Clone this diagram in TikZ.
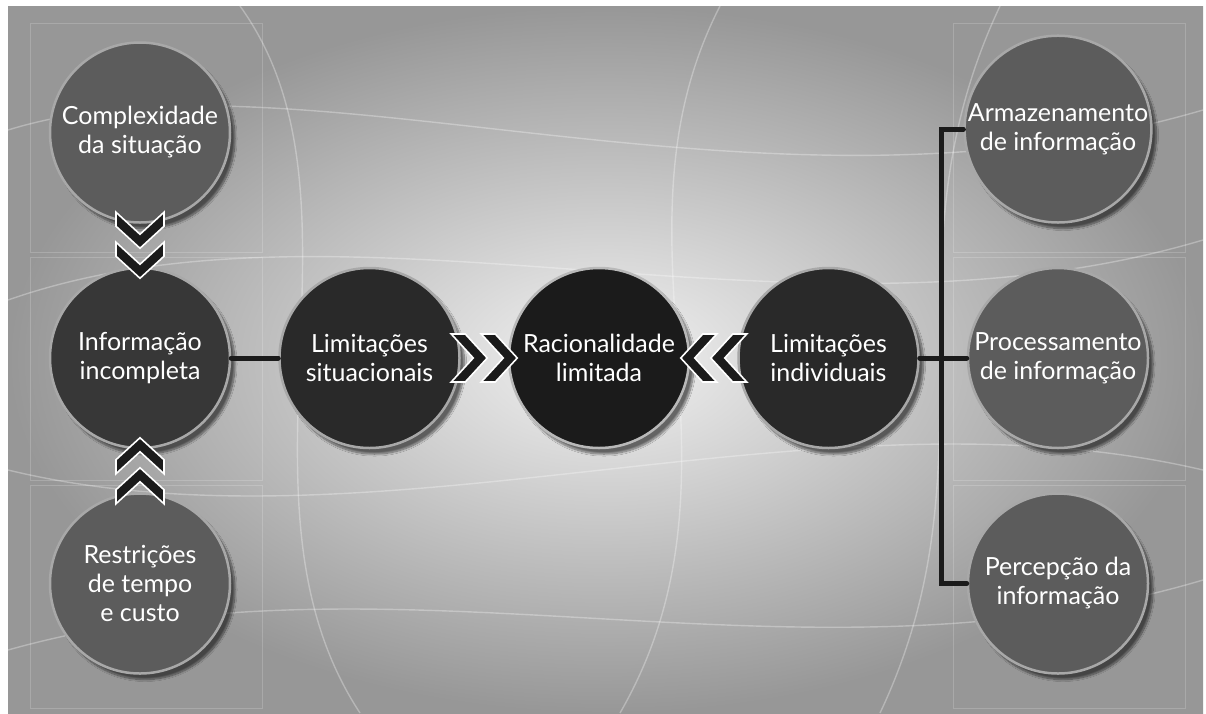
\documentclass[tikz,border=0pt]{standalone}
\usepackage{fontspec}
\setmainfont{Lato}
\usetikzlibrary{positioning,calc,shadows.blur}
\definecolor{BgDark}{HTML}{979797}
\definecolor{BgLight}{HTML}{F2F2F2}
\definecolor{Ring}{HTML}{A8A8A8}
\definecolor{MidGrey}{HTML}{5C5C5C}
\definecolor{DeepGrey}{HTML}{373737}
\definecolor{Coal}{HTML}{292929}
\definecolor{Ink}{HTML}{1B1B1B}
\tikzset{
  disc/.style    = {circle, draw=Ring, line width=2.5pt, minimum size=180pt, inner sep=0pt,
                    align=center, text=white, font=\fontsize{25}{29}\selectfont,
                    blur shadow={shadow xshift=5pt, shadow yshift=-6pt,
                                 shadow blur steps=12, shadow opacity=55}},
  outerdisc/.style = {disc, fill=MidGrey},
  infodisc/.style  = {disc, fill=DeepGrey},
  limdisc/.style   = {disc, fill=Coal},
  coredisc/.style  = {disc, fill=Ink, draw=Ring!80!white},
  link/.style    = {draw=Ink, line width=5pt, line cap=round},
  streak/.style  = {draw=white, line width=1.4pt, opacity=0.3},
  panel/.style   = {draw=white, line width=0.6pt, opacity=0.18},
  dblchev/.pic   = {
    \foreach \d in {3,33}
      \path[fill=Ink, draw=white, line width=1.6pt, line join=miter]
        (\d,0) -- ++(-22,24) -- ++(-14,0) -- ++(22,-24) -- ++(-22,-24) -- ++(14,0) -- cycle;
  },
}
\begin{document}
\begin{tikzpicture}[x=1pt, y=-1pt]

  \useasboundingbox (0,0) rectangle (1206,713);
  \shade[inner color=BgLight, outer color=BgDark] (8,6) rectangle (1203,713);

  % light net in the backdrop
  \draw[streak] (8,130) .. controls (300,40) and (760,240) .. (1203,110);
  \draw[streak] (8,300) .. controls (350,180) and (800,360) .. (1203,240);
  \draw[streak] (8,470) .. controls (380,560) and (820,380) .. (1203,470);
  \draw[streak] (8,650) .. controls (400,540) and (800,700) .. (1203,580);
  \draw[streak] (240,6) .. controls (380,200) and (220,500) .. (360,713);
  \draw[streak] (720,6) .. controls (600,240) and (760,470) .. (620,713);
  \draw[streak] (1000,6) .. controls (880,260) and (1000,460) .. (880,713);

  \draw[panel] (30,23) rectangle (262,252);
  \draw[panel] (30,257) rectangle (262,480);
  \draw[panel] (30,485) rectangle (262,708);
  \draw[panel] (953,23) rectangle (1185,252);
  \draw[panel] (953,257) rectangle (1185,480);
  \draw[panel] (953,485) rectangle (1185,708);

  \node[coredisc] (rac) at (599,358) {Racionalidade\\limitada};
  \node[limdisc, left=47pt of rac] (sit) {Limitações\\situacionais};
  \node[limdisc, right=47pt of rac] (ind) {Limitações\\individuais};
  \node[infodisc, left=47pt of sit] (info) {Informação\\incompleta};
  \node[outerdisc, above=43pt of info] (cplx) {Complexidade\\da situação};
  \node[outerdisc, below=43pt of info] (rest) {Restrições\\de tempo\\e custo};
  \node[outerdisc, right=47pt of ind] (proc) {Processamento\\de informação};
  \node[outerdisc, above=43pt of proc] (arm) {Armazenamento\\de informação};
  \node[outerdisc, below=43pt of proc] (perc) {Percepção da\\informação};

  \draw[link] (info) -- (sit);
  \draw[link] (ind) -- (proc);
  \draw[link] (arm.west) -- ++(-22,0) |- (perc.west);

  \pic[rotate=-90] at ($(cplx.south)!0.5!(info.north)$) {dblchev};
  \pic[rotate=90]  at ($(rest.north)!0.5!(info.south)$) {dblchev};
  \pic             at ($(sit.east)!0.5!(rac.west)$)     {dblchev};
  \pic[rotate=180] at ($(ind.west)!0.5!(rac.east)$)     {dblchev};

\end{tikzpicture}
\end{document}
